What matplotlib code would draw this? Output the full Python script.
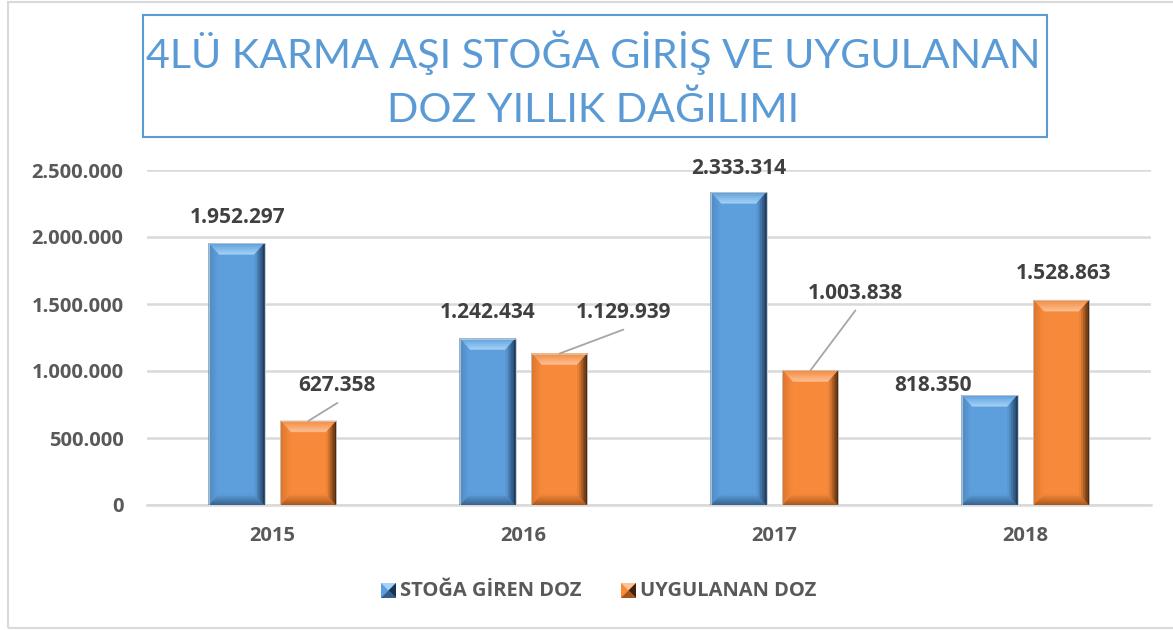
import numpy as np
import matplotlib
matplotlib.use("Agg")
import matplotlib.pyplot as plt
from matplotlib.patches import Polygon, Rectangle
from matplotlib.colors import to_rgb
from matplotlib.ticker import FuncFormatter

# data
years = ["2015", "2016", "2017", "2018"]
stok_giren = [1952297, 1242434, 2333314, 818350]
uygulanan = [627358, 1129939, 1003838, 1528863]
series_names = ["STOĞA GİREN DOZ", "UYGULANAN DOZ"]
title = "4LÜ KARMA AŞI STOĞA GİRİŞ VE UYGULANAN\nDOZ YILLIK DAĞILIMI"

# label centre offsets from the bar top centre, in pixels
blue_offsets = [(1, 26), (0, 26), (0, 24), (-57, 10)]
orange_offsets = [(29, 35), (64, 41), (45, 77), (2, 27)]
orange_leader = [True, True, True, False]

plt.rcParams["font.family"] = ["Open Sans", "DejaVu Sans"]

W, H = 1173, 630
fig = plt.figure(figsize=(W / 100, H / 100), dpi=100)
fig.patch.set_facecolor("white")

# outer frame and title box
fig.add_artist(Rectangle((8 / W, 2 / H), 1.2, 626 / H, transform=fig.transFigure,
                         fill=False, edgecolor="#d9d9d9", lw=1.5))
fig.add_artist(Rectangle((143 / W, (H - 137) / H), 904 / W, 122 / H, transform=fig.transFigure,
                         fill=False, edgecolor="#5b9bd5", lw=1.5))
fig.text(593 / W, (H - 80) / H, title, ha="center", va="center", fontsize=29.7,
         color="#5b9bd5", linespacing=1.55, family=["Lato", "DejaVu Sans"])

ax = fig.add_axes([147 / W, (H - 505) / H, 1004 / W, 335 / H])
x = np.arange(len(years))
bw = 0.223
off = 0.143
ax.set_xlim(-0.5, len(years) - 0.5)
ax.set_ylim(0, 2500000)

blue = dict(face="#5d9fdd", top="#a5d2f6", left="#4d88c0", right="#1a3350", bottom="#355f88")
orange = dict(face="#f7893a", top="#fcc196", left="#d9742e", right="#42210a", bottom="#a3551b")

bars_b = ax.bar(x - off, stok_giren, bw, color=blue["face"], zorder=3)
bars_o = ax.bar(x + off, uygulanan, bw, color=orange["face"], zorder=3)


def mix(c1, c2, t):
    a, b = np.array(to_rgb(c1)), np.array(to_rgb(c2))
    return tuple(a + (b - a) * t)


def side(outer, inner, c_out, c_in, n=6, z=4):
    # outer = (P0, P1), inner = (Q0, Q1); strips from outer to inner edge
    P0, P1 = np.array(outer[0]), np.array(outer[1])
    Q0, Q1 = np.array(inner[0]), np.array(inner[1])
    for i in range(n):
        t0, t1 = i / n, (i + 1) / n
        pts = [P0 + (Q0 - P0) * t0, P1 + (Q1 - P1) * t0,
               P1 + (Q1 - P1) * t1, P0 + (Q0 - P0) * t1]
        col = mix(c_out, c_in, (t0 + t1) / 2)
        ax.add_patch(Polygon(pts, closed=True, facecolor=col, edgecolor=col,
                             lw=0.3, zorder=z))


def bevel(bar, c):
    # bevel depth in data units, from a fixed number of pixels
    px_x = (ax.get_xlim()[1] - ax.get_xlim()[0]) / 1004
    px_y = (ax.get_ylim()[1] - ax.get_ylim()[0]) / 335
    dx, dy = 10 * px_x, 11 * px_y
    x0, y0 = bar.get_x(), bar.get_y()
    x1, y1 = x0 + bar.get_width(), y0 + bar.get_height()
    dy = min(dy, (y1 - y0) / 2)
    side(((x0, y1), (x1, y1)), ((x0 + dx, y1 - dy), (x1 - dx, y1 - dy)),
         c["face"], c["top"], z=4)
    side(((x0, y0), (x1, y0)), ((x0 + dx, y0 + dy), (x1 - dx, y0 + dy)),
         c["bottom"], c["face"], z=4)
    side(((x0, y0), (x0, y1)), ((x0 + dx, y0 + dy), (x0 + dx, y1 - dy)),
         c["left"], c["face"], z=4.1)
    side(((x1, y0), (x1, y1)), ((x1 - dx, y0 + dy), (x1 - dx, y1 - dy)),
         c["right"], c["face"], z=4.2)
    ax.add_patch(Rectangle((x0, y0), x1 - x0, y1 - y0, fill=False,
                           edgecolor="#c8c8c8", lw=0.6, zorder=5))


for b in bars_b:
    bevel(b, blue)
for b in bars_o:
    bevel(b, orange)


def fmt(v):
    return f"{v:,.0f}".replace(",", ".")


lbl = dict(fontsize=15, fontweight="bold", color="#404040", ha="center", va="center")
for b, v, (dx, dy) in zip(bars_b, stok_giren, blue_offsets):
    ax.annotate(fmt(v), (b.get_x() + b.get_width() / 2, v), xytext=(dx, dy),
                textcoords="offset pixels", zorder=6, **lbl)
for b, v, (dx, dy), lead in zip(bars_o, uygulanan, orange_offsets, orange_leader):
    cx = b.get_x() + b.get_width() / 2
    ax.annotate(fmt(v), (cx, v), xytext=(dx, dy), textcoords="offset pixels",
                zorder=6, **lbl)
    if lead:
        ax.annotate("", (cx, v), xytext=(dx, dy - 17), textcoords="offset pixels",
                    arrowprops=dict(arrowstyle="-", color="#a6a6a6", lw=1.3,
                                    shrinkA=0, shrinkB=0), zorder=6)

ax.set_yticks(np.arange(0, 2500001, 500000))
ax.yaxis.set_major_formatter(FuncFormatter(lambda v, p: fmt(v)))
ax.set_xticks(x)
ax.set_xticklabels(years)
ax.tick_params(length=0, labelsize=14.5, labelcolor="#595959")
ax.tick_params(axis="y", pad=17)
ax.tick_params(axis="x", pad=15)
for t in ax.get_xticklabels() + ax.get_yticklabels():
    t.set_fontweight("bold")
ax.grid(axis="y", color="#d9d9d9", lw=1.8, zorder=0)
for s in ["top", "right", "left"]:
    ax.spines[s].set_visible(False)
ax.spines["bottom"].set_color("#d9d9d9")
ax.spines["bottom"].set_linewidth(1.8)

# legend with bevelled square markers
leg_items = [(381, 400, blue, series_names[0]), (621, 640, orange, series_names[1])]
for px, tx, c, name in leg_items:
    s = 15
    ly = H - 598
    fx, fy = px / W, ly / H
    sw, sh = s / W, s / H
    fig.add_artist(Rectangle((fx, fy), sw, sh, transform=fig.transFigure,
                             facecolor=c["face"], edgecolor="none"))
    cxp, cyp = fx + sw / 2, fy + sh / 2
    tri = [
        ([(fx, fy + sh), (fx + sw, fy + sh), (cxp, cyp)], c["top"]),
        ([(fx + sw, fy), (fx + sw, fy + sh), (cxp, cyp)], c["right"]),
        ([(fx, fy), (fx + sw, fy), (cxp, cyp)], c["bottom"]),
    ]
    for pts, col in tri:
        fig.add_artist(Polygon(pts, closed=True, transform=fig.transFigure,
                               facecolor=col, edgecolor="none"))
    fig.text(tx / W, (ly + s / 2) / H, name, ha="left", va="center",
             fontsize=14.5, fontweight="bold", color="#595959")

fig.savefig("out.png", dpi=100)
